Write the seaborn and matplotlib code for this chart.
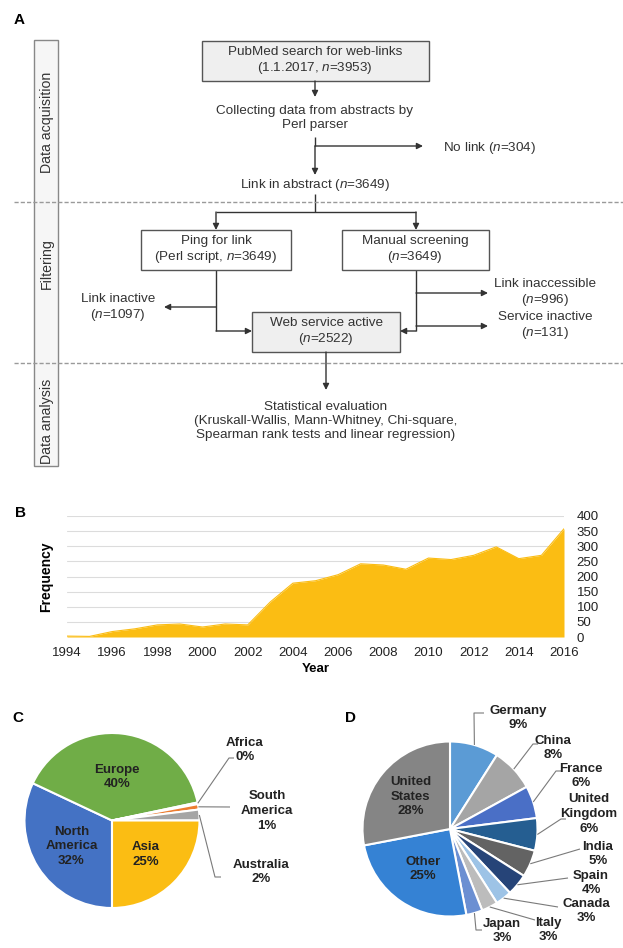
"""
Web-service survey figure: workflow (A), yearly frequency (B), and two pies (C, D).
"""

import numpy as np
import seaborn as sns
import matplotlib.pyplot as plt
from matplotlib.patches import Rectangle

# ---- data -------------------------------------------------------------
years = list(range(1994, 2017))
frequency = [3, 2, 18, 27, 40, 43, 33, 43, 40, 116, 178, 186,
             206, 242, 238, 224, 261, 256, 270, 298, 259, 270, 358]

continents = ["North America", "Europe", "Africa", "South America", "Australia", "Asia"]
continent_share = [32, 39.7, 0.3, 1, 2, 25]
continent_text = ["North\nAmerica\n32%", "Europe\n40%", "Africa\n0%",
                  "South\nAmerica\n1%", "Australia\n2%", "Asia\n25%"]
continent_colors = ["#4472c4", "#70ad47", "#5b9bd5", "#ed7d31", "#a5a5a5", "#fbbd13"]

countries = ["Germany", "China", "France", "United Kingdom", "India", "Spain",
             "Canada", "Italy", "Japan", "Other", "United States"]
country_share = [9, 8, 6, 6, 5, 4, 3, 3, 3, 25, 28]
country_text = ["Germany\n9%", "China\n8%", "France\n6%", "United\nKingdom\n6%",
                "India\n5%", "Spain\n4%", "Canada\n3%", "Italy\n3%", "Japan\n3%",
                "Other\n25%", "United\nStates\n28%"]
country_colors = ["#5b9bd5", "#a5a5a5", "#4a6fc6", "#255e91", "#636363", "#264478",
                  "#9dc3e6", "#bcbcbc", "#6b8fd2", "#3582d4", "#858585"]

# ---- style ------------------------------------------------------------
sns.set_theme(style="white")
plt.rcParams["font.family"] = ["Liberation Sans", "DejaVu Sans"]
plt.rcParams["mathtext.fontset"] = "custom"
plt.rcParams["mathtext.rm"] = "Liberation Sans"
plt.rcParams["mathtext.it"] = "Liberation Sans:italic"

W, H = 623, 948
fig = plt.figure(figsize=(W / 100, H / 100), dpi=100)
fig.patch.set_facecolor("white")

INK = "#333333"
FS = 9.7


def pie_axes(cx, cy, r):
    return fig.add_axes([(cx - r) / W, (H - cy - r) / H, 2 * r / W, 2 * r / H])


# ---- panel B: frequency per year --------------------------------------
ax_b = fig.add_axes([67 / W, (H - 637) / H, (564 - 67) / W, (637 - 516) / H])
sns.lineplot(x=years, y=frequency, color="#fbbd13", lw=0.8, ax=ax_b)
ax_b.fill_between(years, frequency, color="#fbbd13", lw=0, zorder=2)
ax_b.set_xlim(1994, 2016)
ax_b.set_ylim(0, 400)
ax_b.set_yticks(range(0, 401, 50))
ax_b.set_xticks(range(1994, 2017, 2))
ax_b.yaxis.tick_right()
ax_b.yaxis.set_label_position("left")
ax_b.grid(axis="y", color="#dcdcdc", lw=0.8)
ax_b.set_axisbelow(True)
for s in ax_b.spines.values():
    s.set_visible(False)
ax_b.tick_params(axis="both", length=0, labelsize=9.5, colors="#222222")
ax_b.tick_params(axis="x", pad=7)
ax_b.tick_params(axis="y", pad=9)
ax_b.set_ylabel("Frequency", fontsize=10, fontweight="bold", labelpad=10, color="black")
ax_b.set_xlabel("Year", fontsize=9.5, fontweight="bold", labelpad=3, color="black")

# ---- pies -------------------------------------------------------------
cx_c, cy_c, r_c = 112, 820.5, 87.5
ax_c = pie_axes(cx_c, cy_c, r_c)
wedges_c, _ = ax_c.pie(continent_share, colors=continent_colors, startangle=270,
                       counterclock=False, radius=1,
                       wedgeprops=dict(edgecolor="white", linewidth=1.5))

cx_d, cy_d, r_d = 450, 829, 87.5
ax_d = pie_axes(cx_d, cy_d, r_d)
wedges_d, _ = ax_d.pie(country_share, colors=country_colors, startangle=90,
                       counterclock=False, radius=1,
                       wedgeprops=dict(edgecolor="white", linewidth=1.5))
for ax in (ax_c, ax_d):
    ax.set_xlim(-1, 1)
    ax.set_ylim(-1, 1)
    ax.set_aspect("auto")
    ax.axis("off")

# full-figure overlay in pixel coordinates for the workflow and annotations
ov = fig.add_axes([0, 0, 1, 1])
ov.set_xlim(0, W)
ov.set_ylim(H, 0)
ov.axis("off")
ov.set_zorder(10)


def box(x0, y0, x1, y1, fill):
    ov.add_patch(Rectangle((x0, y0), x1 - x0, y1 - y0, facecolor=fill,
                           edgecolor="#555555", lw=1.0, zorder=2))


def line(xs, ys, color=INK, lw=1.0):
    ov.plot(xs, ys, color=color, lw=lw, solid_capstyle="butt", zorder=1)


def arrow(x0, y0, x1, y1):
    ov.annotate("", xy=(x1, y1), xytext=(x0, y0),
                arrowprops=dict(arrowstyle="-|>", color=INK, lw=1.0,
                                mutation_scale=9, shrinkA=0, shrinkB=0))


def txt(x, y, s, **kw):
    kw.setdefault("fontsize", FS)
    kw.setdefault("color", INK)
    kw.setdefault("linespacing", 1.22)
    ov.text(x, y, s, ha=kw.pop("ha", "center"), va=kw.pop("va", "center"),
            zorder=3, **kw)


# ---- panel A: workflow ------------------------------------------------
txt(19, 20, "A", fontsize=11, fontweight="bold", color="black")

ov.add_patch(Rectangle((34, 40), 24, 426, facecolor="#f6f6f6",
                       edgecolor="#888888", lw=1.0, zorder=1))
for yy in (202, 363):
    ov.plot([14, W], [yy, yy], color="#9a9a9a", lw=1.0,
            linestyle=(0, (3, 1.5)), zorder=1.5)
txt(47, 122, "Data acquisition", rotation=90, fontsize=10.2)
txt(47, 264, "Filtering", rotation=90, fontsize=10.2)
txt(47, 421, "Data analysis", rotation=90, fontsize=10.2)

box(202, 41, 429, 81, "#efefef")
txt(315, 61, "PubMed search for web-links\n(1.1.2017, $n$=3953)")
arrow(315, 81, 315, 97)
txt(315, 118, "Collecting data from abstracts by\nPerl parser")
line([315, 315], [137, 146])
arrow(315, 146, 315, 175)
arrow(315, 146, 423, 146)
txt(443, 148, "No link ($n$=304)", ha="left")
txt(315, 185, "Link in abstract ($n$=3649)")
line([315, 315], [194, 212])
line([216, 416], [212, 212])
arrow(216, 212, 216, 230)
arrow(416, 212, 416, 230)

box(141, 230, 291, 270, "white")
txt(216, 250, "Ping for link\n(Perl script, $n$=3649)")
box(342, 230, 489, 270, "white")
txt(415, 250, "Manual screening\n($n$=3649)")

line([216, 216], [270, 331])
arrow(216, 307, 164, 307)
arrow(216, 331, 252, 331)
txt(118, 308, "Link inactive\n($n$=1097)")

line([416, 416], [270, 331])
arrow(416, 331, 400, 331)
arrow(416, 293, 488, 293)
arrow(416, 326, 488, 326)
txt(545, 293, "Link inaccessible\n($n$=996)")
txt(545, 326, "Service inactive\n($n$=131)")

box(252, 312, 400, 352, "#efefef")
txt(326, 332, "Web service active\n($n$=2522)")
arrow(326, 352, 326, 390)
txt(326, 421, "Statistical evaluation\n(Kruskall-Wallis, Mann-Whitney, Chi-square,\n"
              "Spearman rank tests and linear regression)")

txt(20, 513, "B", fontsize=11, fontweight="bold", color="black")


# ---- pie labels ---------------------------------------------------------
def edge_point(cx, cy, r, wedge, frac=1.0):
    ang = np.deg2rad((wedge.theta1 + wedge.theta2) / 2)
    return cx + frac * r * np.cos(ang), cy - frac * r * np.sin(ang)


def label_pie(names, wedges, texts, cx, cy, r, inside, outside):
    for name, w, lab in zip(names, wedges, texts):
        if name in inside:
            x, y = edge_point(cx, cy, r, w, inside[name])
        else:
            (x, y), path = outside[name]
            pts = [edge_point(cx, cy, r, w)] + path
            line([p[0] for p in pts], [p[1] for p in pts], color="#7a7a7a", lw=0.8)
        txt(x, y, lab, fontsize=9.5, fontweight="bold", color="#222222",
            linespacing=1.28)


txt(18, 718, "C", fontsize=11, fontweight="bold", color="black")
label_pie(continents, wedges_c, continent_text, cx_c, cy_c, r_c,
          {"North America": 0.55, "Europe": 0.5, "Asia": 0.55},
          {"Africa": ((245, 750), [(229, 758), (234, 758)]),
           "South America": ((267, 811), [(230, 807)]),
           "Australia": ((261, 872), [(215, 877), (221, 877)])})

txt(350, 718, "D", fontsize=11, fontweight="bold", color="black")
label_pie(countries, wedges_d, country_text, cx_d, cy_d, r_d,
          {"Other": 0.55, "United States": 0.58},
          {"Germany": ((518, 718), [(474, 713), (484, 713)]),
           "China": ((553, 748), [(533, 744), (538, 744)]),
           "France": ((581, 776), [(556, 771), (561, 771)]),
           "United Kingdom": ((589, 814), [(561, 819), (566, 819)]),
           "India": ((598, 854), [(580, 849)]),
           "Spain": ((591, 883), [(568, 878)]),
           "Canada": ((586, 911), [(558, 907)]),
           "Italy": ((548, 930), [(535, 920)]),
           "Japan": ((502, 931), [(476, 930), (482, 930)])})

fig.savefig("out.png", dpi=100, facecolor="white")
